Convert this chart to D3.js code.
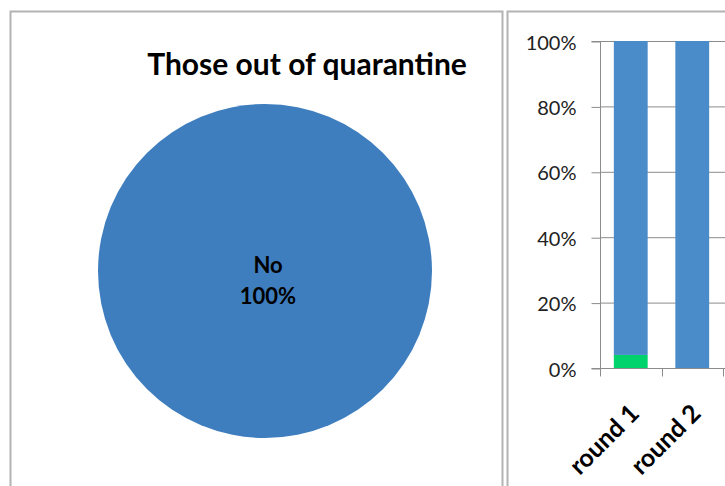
<!DOCTYPE html>
<html><head><meta charset="utf-8">
<script src="https://cdn.jsdelivr.net/npm/d3@7"></script>
<style>html,body{margin:0;padding:0;background:#fff;overflow:hidden}</style>
</head><body>
<script>
const pieLabels = ["No"];
const pieValues = [100];
const pieColors = ["#3e7ebe"];
const rounds = ["round 1", "round 2"];
const seriesNames = ["Yes", "No"];
const yesValues = [4, 0];
const noValues = [96, 100];
const seriesColors = ["#00d36b", "#4a8bca"];
const yTicks = [0, 20, 40, 60, 80, 100];

const W = 725, H = 486;
const svg = d3.select("body").append("svg").attr("width", W).attr("height", H);
const font = "Lato, 'Open Sans', sans-serif";

// panel frames
svg.append("rect").attr("x", 10.5).attr("y", 11.5).attr("width", 492).attr("height", 490)
  .attr("fill", "#fff").attr("stroke", "#b3b3b3").attr("stroke-width", 2);
svg.append("rect").attr("x", 507.5).attr("y", 11.5).attr("width", 240).attr("height", 490)
  .attr("fill", "#fff").attr("stroke", "#b3b3b3").attr("stroke-width", 2);

// Pie
svg.append("text").attr("x", 307).attr("y", 75).attr("text-anchor", "middle")
  .attr("font-family", font).attr("font-weight", "bold").attr("font-size", 30)
  .attr("fill", "#000").text("Those out of quarantine");

const pie = d3.pie().sort(null)(pieValues);
const arc = d3.arc().innerRadius(0).outerRadius(167);
const pg = svg.append("g").attr("transform", "translate(265,271)");
pg.selectAll("path").data(pie).join("path").attr("d", arc)
  .attr("fill", (d, i) => pieColors[i]);
pg.selectAll("text.l").data(pie).join("text")
  .attr("text-anchor", "middle").attr("font-family", font).attr("font-weight", "bold")
  .attr("font-size", 22).attr("fill", "#000")
  .each(function(d, i) {
    const t = d3.select(this);
    t.append("tspan").attr("x", 3).attr("y", 2).text(pieLabels[i]);
    t.append("tspan").attr("x", 3).attr("y", 33).text(d3.format(".0f")(d.value / d3.sum(pieValues) * 100) + "%");
  });

// Stacked bar
const x = d3.scaleBand().domain(rounds).range([600, 723]).paddingInner(0.45).paddingOuter(0.225);
const y = d3.scaleLinear().domain([0, 100]).range([368, 41]);
const g = svg.append("g");

g.selectAll("line.grid").data(yTicks).join("line")
  .attr("x1", 600).attr("x2", 725).attr("y1", d => y(d) + 0.5).attr("y2", d => y(d) + 0.5)
  .attr("stroke", "#8c8c8c").attr("stroke-width", 1);

const stackData = rounds.map((r, i) => ({round: r, Yes: yesValues[i], No: noValues[i]}));
const stack = d3.stack().keys(seriesNames)(stackData);
g.selectAll("g.s").data(stack).join("g").attr("fill", (d, i) => seriesColors[i])
  .selectAll("rect").data(d => d).join("rect")
  .attr("x", d => x(d.data.round)).attr("width", x.bandwidth())
  .attr("y", d => y(d[1])).attr("height", d => y(d[0]) - y(d[1]));

const yAxis = g.append("g").attr("transform", "translate(600.5,0.5)")
  .call(d3.axisLeft(y).tickValues(yTicks).tickFormat(d => d + "%").tickSize(9).tickPadding(15));
yAxis.select(".domain").attr("stroke", "#8c8c8c").attr("d", "M-9," + (y(0)) + "H0V" + y(100) + "H-9");
yAxis.selectAll(".tick line").attr("stroke", "#8c8c8c");
yAxis.selectAll(".tick text").attr("font-family", font).attr("font-size", 20).attr("fill", "#222")
  .attr("dy", "0.38em");

const xAxis = g.append("g").attr("transform", "translate(0,368.5)")
  .call(d3.axisBottom(x).tickSize(0).tickFormat(""));
xAxis.select(".domain").attr("stroke", "#8c8c8c").attr("d", "M600,0H725");
const step = x.step();
const bounds = [600, 600 + step, 600 + 2 * step];
xAxis.selectAll("line.b").data(bounds).join("line")
  .attr("x1", d => Math.round(d) + 0.5).attr("x2", d => Math.round(d) + 0.5)
  .attr("y1", 0).attr("y2", 8).attr("stroke", "#8c8c8c");

g.selectAll("text.cat").data(rounds).join("text")
  .attr("transform", d => `translate(${x(d) + x.bandwidth() / 2 + 10},${415}) rotate(-45)`)
  .attr("text-anchor", "end").attr("font-family", font).attr("font-weight", "bold").attr("font-size", 25)
  .attr("fill", "#000").text(d => d);
</script>
</body></html>
